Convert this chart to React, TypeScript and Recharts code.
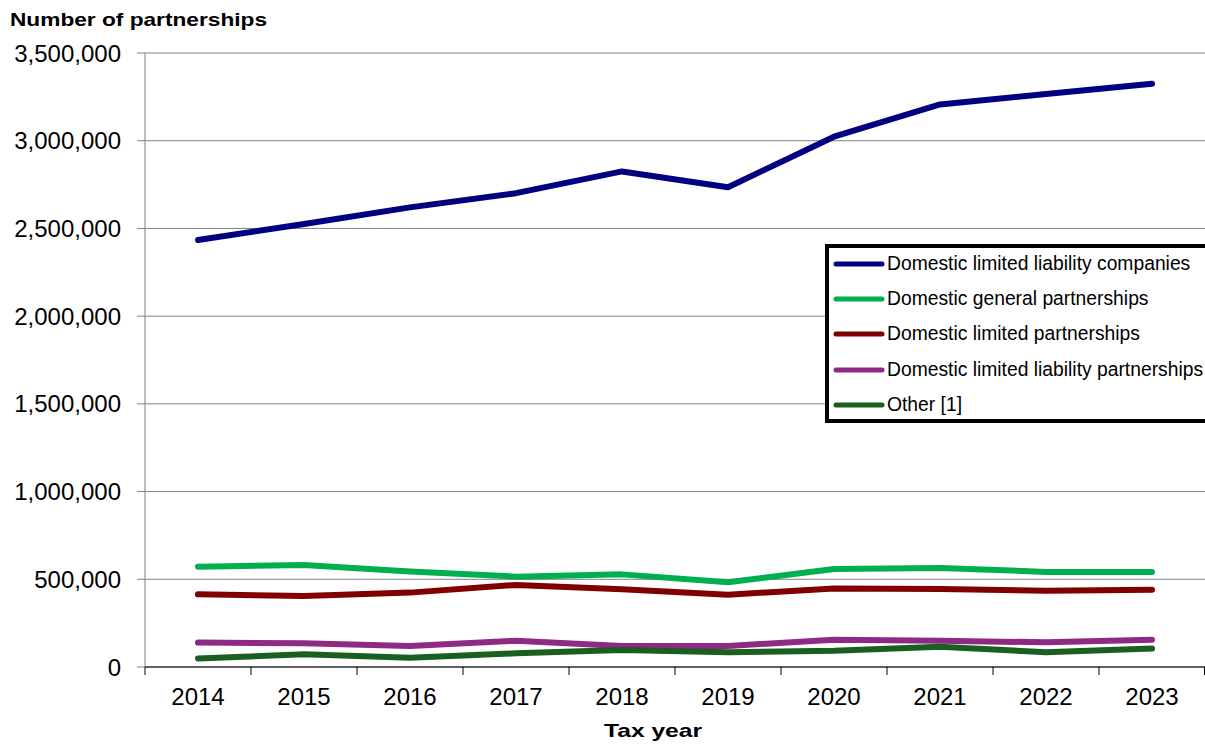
import { LineChart, Line, XAxis, YAxis, CartesianGrid, Legend } from "recharts";

// ------------------------------------------------------------------
// Number of partnerships by tax year, 2014–2023
// ------------------------------------------------------------------

const years = ["2014", "2015", "2016", "2017", "2018", "2019", "2020", "2021", "2022", "2023"];

const llcValues = [2434000, 2525000, 2620000, 2701000, 2825000, 2735000, 3023000, 3207000, 3266000, 3325000];
const generalValues = [572000, 582000, 544000, 515000, 528000, 483000, 559000, 565000, 542000, 542000];
const limitedValues = [414000, 405000, 424000, 468000, 443000, 412000, 448000, 445000, 435000, 441000];
const llpValues = [139000, 135000, 120000, 150000, 120000, 120000, 156000, 149000, 141000, 156000];
const otherValues = [49000, 72000, 53000, 78000, 97000, 84000, 92000, 116000, 84000, 105000];

const yTicks = [0, 500000, 1000000, 1500000, 2000000, 2500000, 3000000, 3500000];

const series = [
  { key: "llc", name: "Domestic limited liability companies", color: "#000080" },
  { key: "general", name: "Domestic general partnerships", color: "#00B050" },
  { key: "limited", name: "Domestic limited partnerships", color: "#800000" },
  { key: "llp", name: "Domestic limited liability partnerships", color: "#8E2A84" },
  { key: "other", name: "Other [1]", color: "#1A5E20" },
];

const data = years.map((year, i) => ({
  year,
  llc: llcValues[i],
  general: generalValues[i],
  limited: limitedValues[i],
  llp: llpValues[i],
  other: otherValues[i],
}));

const FONT = "Arial, 'Liberation Sans', sans-serif";

// x tick: label at band centre, tick marks on the band boundaries
function YearTick(props: any) {
  const { x, y, payload, index, visibleTicksCount } = props;
  const half = payload?.offset ?? 53;
  const last = index === visibleTicksCount - 1;
  return (
    <g>
      <line x1={x - half} x2={x - half} y1={y} y2={y + 8} stroke="#000" strokeWidth={1} />
      {last && <line x1={x + half - 0.5} x2={x + half - 0.5} y1={y} y2={y + 8} stroke="#000" strokeWidth={1} />}
      <text x={x} y={y + 38} textAnchor="middle" fontSize={24} fontFamily={FONT} fill="#000">
        {payload.value}
      </text>
    </g>
  );
}

// legend keeps the series order (recharts sorts by name otherwise)
function LegendBox({ payload }: any) {
  const items = [...(payload || [])].sort(
    (a: any, b: any) =>
      series.findIndex((s) => s.name === a.value) - series.findIndex((s) => s.name === b.value)
  );
  return (
    <div style={legendStyle}>
      <div style={{ position: "relative", top: -3 }}>
        {items.map((p: any) => (
          <div key={p.value} style={legendRow}>
            <svg width={52} height={8} style={{ display: "block", marginRight: 2 }}>
              <line x1={3} x2={49} y1={4} y2={4} stroke={p.color} strokeWidth={5} strokeLinecap="round" />
            </svg>
            <span>{p.value}</span>
          </div>
        ))}
      </div>
    </div>
  );
}

export default function App() {
  return (
    <div style={pageStyle}>
      <LineChart width={1205} height={747} data={data} margin={{ top: 53, right: 0, left: 0, bottom: 30 }}>
        <CartesianGrid vertical={false} stroke="#808080" strokeWidth={1} />
        <XAxis
          dataKey="year"
          scale="band"
          height={50}
          tickSize={0}
          tickMargin={0}
          tickLine={false}
          axisLine={{ stroke: "#000", strokeWidth: 1 }}
          tick={<YearTick />}
          interval={0}
        />
        <YAxis
          width={145}
          domain={[0, 3500000]}
          ticks={yTicks}
          interval={0}
          tickSize={8}
          tickMargin={16}
          axisLine={{ stroke: "#808080", strokeWidth: 1 }}
          tickLine={{ stroke: "#808080", strokeWidth: 1 }}
          tick={{ fontSize: 24, fill: "#000", fontFamily: FONT }}
          tickFormatter={(v: number) => v.toLocaleString("en-US")}
        />
        <Legend
          content={<LegendBox />}
          layout="vertical"
          align="center"
          verticalAlign="middle"
          wrapperStyle={{ position: "absolute", left: 825, top: 244, width: 420 }}
        />
        {series.map((s) => (
          <Line
            key={s.key}
            type="linear"
            dataKey={s.key}
            name={s.name}
            stroke={s.color}
            strokeWidth={6}
            strokeLinecap="round"
            strokeLinejoin="round"
            dot={false}
            activeDot={false}
            isAnimationActive={false}
          />
        ))}
      </LineChart>

      {/* titles */}
      <svg width={1205} height={747} style={{ position: "absolute", left: 0, top: 0, pointerEvents: "none" }}>
        <text x={10} y={26} fontSize={19} fontWeight="bold" fontFamily={FONT} fill="#000"
          textLength={257} lengthAdjust="spacingAndGlyphs">
          Number of partnerships
        </text>
        <text x={604} y={737} fontSize={19} fontWeight="bold" fontFamily={FONT} fill="#000"
          textLength={98} lengthAdjust="spacingAndGlyphs">
          Tax year
        </text>
      </svg>
    </div>
  );
}

const pageStyle: React.CSSProperties = {
  position: "absolute",
  left: 0,
  top: 0,
  width: 1205,
  height: 747,
  overflow: "hidden",
  background: "#fff",
};

const legendStyle: React.CSSProperties = {
  boxSizing: "border-box",
  width: 420,
  height: 179,
  border: "4px solid #000",
  background: "#fff",
  paddingTop: 1,
  paddingLeft: 4,
  fontFamily: FONT,
  fontSize: 19.3,
  color: "#000",
};

const legendRow: React.CSSProperties = {
  display: "flex",
  alignItems: "center",
  height: 35.3,
  whiteSpace: "nowrap",
};
